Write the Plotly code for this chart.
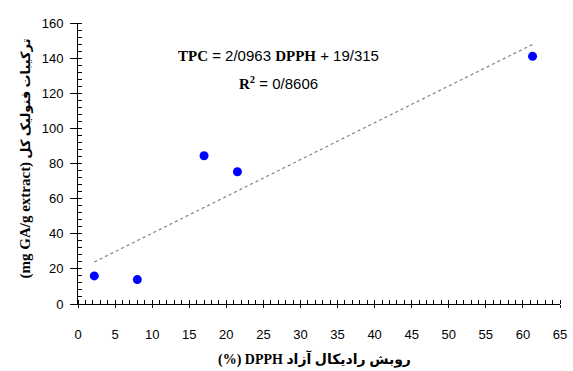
import plotly.graph_objects as go

dpph = [2.2, 8.0, 17.0, 21.5, 61.3]
tpc = [16.0, 13.9, 84.4, 75.3, 141.0]
slope = 2.0963
intercept = 19.315
x_ticks = list(range(0, 66, 5))
y_ticks = list(range(0, 161, 20))

trend_x = [min(dpph), max(dpph)]
trend_y = [slope * v + intercept for v in trend_x]

SANS = "Liberation Sans, Arial, sans-serif"
SERIF = "Liberation Serif, Times New Roman, DejaVu Sans, serif"

fig = go.Figure()
fig.add_trace(go.Scatter(x=trend_x, y=trend_y, mode="lines",
                         line=dict(color="#808080", width=1.2, dash="dot"),
                         hoverinfo="skip", showlegend=False))
fig.add_trace(go.Scatter(x=dpph, y=tpc, mode="markers",
                         marker=dict(color="#0000FF", size=9, line=dict(width=0)),
                         showlegend=False))
# invisible trace for overlay axes (inner halves of crossing ticks)
fig.add_trace(go.Scatter(x=[None], y=[None], xaxis="x2", yaxis="y2",
                         showlegend=False, hoverinfo="skip"))

axis_common = dict(showgrid=False, zeroline=False, showline=True,
                   linecolor="black", linewidth=1, tickcolor="black",
                   ticklabeloverflow="allow",
                   tickfont=dict(family=SANS, size=13, color="black"))

fig.update_layout(
    width=573, height=371,
    margin=dict(l=78, r=6, t=23, b=67),
    paper_bgcolor="white", plot_bgcolor="white",
    xaxis=dict(range=[0, 65], tickvals=x_ticks, ticks="outside", ticklen=3,
               ticklabelstandoff=15,
               minor=dict(dtick=1, ticks="inside", ticklen=4, tickcolor="black"),
               **axis_common),
    yaxis=dict(range=[0, 160], tickvals=y_ticks, ticks="outside", ticklen=7,
               ticklabelstandoff=4,
               minor=dict(dtick=4, ticks="inside", ticklen=4, tickcolor="black"),
               **axis_common),
    xaxis2=dict(range=[0, 65], overlaying="x", anchor="y", side="bottom",
                tickvals=x_ticks, ticks="inside", ticklen=3, showticklabels=False,
                showgrid=False, zeroline=False, showline=False, tickcolor="black"),
    yaxis2=dict(range=[0, 160], overlaying="y", anchor="x", side="left",
                tickvals=y_ticks, ticks="inside", ticklen=4, showticklabels=False,
                showgrid=False, zeroline=False, showline=False, tickcolor="black"),
)

b = "font-family:'Liberation Serif','Times New Roman',serif;font-weight:bold"
fig.add_annotation(
    x=27.0, y=141.4, xref="x", yref="y", showarrow=False,
    text=f"<span style=\"{b}\">TPC</span> = 2/0963 <span style=\"{b}\">DPPH</span> + 19/315",
    font=dict(family=SANS, size=15, color="black"))
fig.add_annotation(
    x=27.0, y=126, xref="x", yref="y", showarrow=False,
    text=f"<span style=\"{b}\">R<sup>2</sup></span> = 0/8606",
    font=dict(family=SANS, size=15, color="black"))

fig.add_annotation(
    x=0.49, y=0, xref="paper", yref="paper", yshift=-55, yanchor="middle",
    showarrow=False, text="<b>(%) DPPH روبش رادیکال آزاد</b>",
    font=dict(family=SERIF, size=14, color="black"))
fig.add_annotation(
    x=0, y=0.5, xref="paper", yref="paper", xshift=-53, yshift=5,
    xanchor="center", yanchor="middle", textangle=-90,
    showarrow=False,
    text="<b><span style=\"font-size:15px\">(mg GA/g extract)</span> ترکیبات فنولیک کل</b>",
    font=dict(family=SERIF, size=13, color="black"))

fig.write_html("out.html", config={"displayModeBar": False},
               post_script="document.body.style.margin='0';document.body.style.overflow='hidden';")
